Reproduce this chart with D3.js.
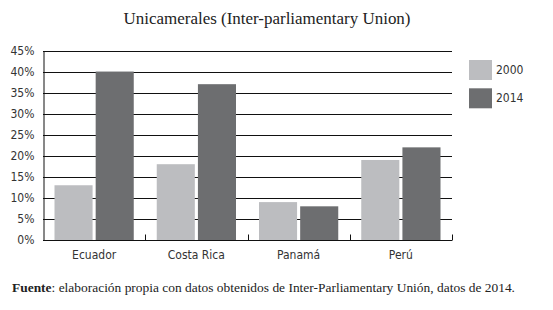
<!DOCTYPE html>
<html>
<head>
<meta charset="utf-8">
<script src="https://cdn.jsdelivr.net/npm/d3@7"></script>
<style>
  body { margin: 0; background: #fff; }
</style>
</head>
<body>
<div id="chart"></div>
<script>
const countries = ["Ecuador", "Costa Rica", "Panamá", "Perú"];
const years = ["2000", "2014"];
const values2000 = [13, 18, 9, 19];
const values2014 = [40, 37, 8, 22];
const yTicks = [0, 5, 10, 15, 20, 25, 30, 35, 40, 45];

const width = 553;
const height = 310;
const marginLeft = 43;
const plotRight = 452;
const marginTop = 50.5;
const plotBottom = 240;

const narrow = "'Liberation Sans Narrow', 'DejaVu Sans Condensed', sans-serif";
const serif = "'Liberation Serif', 'DejaVu Serif', serif";

const color = d3.scaleOrdinal().domain(years).range(["#bcbdc0", "#6d6e70"]);

const x = d3.scaleBand().domain(countries).range([marginLeft, plotRight]).paddingInner(0).paddingOuter(0);
const x1 = d3.scaleBand().domain(years).range([11.5, x.bandwidth() - 11.5]).paddingInner(0.075);
const y = d3.scaleLinear().domain([0, 45]).range([plotBottom, marginTop]);

const svg = d3.select("#chart").append("svg")
  .attr("width", width)
  .attr("height", height)
  .attr("viewBox", [0, 0, width, height]);

// title
svg.append("text")
  .attr("x", 267)
  .attr("y", 24)
  .attr("text-anchor", "middle")
  .attr("font-family", serif)
  .attr("font-size", 16)
  .attr("textLength", 287)
  .attr("lengthAdjust", "spacingAndGlyphs")
  .attr("fill", "#222")
  .text("Unicamerales (Inter-parliamentary Union)");

// gridlines
svg.append("g")
  .selectAll("line")
  .data(yTicks.filter(d => d > 0))
  .join("line")
  .attr("x1", marginLeft)
  .attr("x2", plotRight)
  .attr("y1", d => Math.round(y(d)) + 0.5)
  .attr("y2", d => Math.round(y(d)) + 0.5)
  .attr("stroke", "#111")
  .attr("stroke-width", 1);

// bars
const rows = countries.map((c, i) => ({ country: c, values: [values2000[i], values2014[i]] }));
svg.append("g")
  .selectAll("g")
  .data(rows)
  .join("g")
  .attr("transform", d => `translate(${x(d.country)},0)`)
  .selectAll("rect")
  .data(d => years.map((yr, j) => ({ year: yr, value: d.values[j] })))
  .join("rect")
  .attr("x", d => x1(d.year))
  .attr("width", x1.bandwidth())
  .attr("y", d => y(d.value))
  .attr("height", d => y(0) - y(d.value))
  .attr("fill", d => color(d.year));

// y axis
const yAxis = svg.append("g")
  .attr("transform", `translate(${marginLeft + 0.5},0)`)
  .call(d3.axisLeft(y).tickValues(yTicks).tickFormat(d => d + "%").tickSize(0).tickPadding(9));
yAxis.select(".domain").attr("stroke", "#111");
yAxis.selectAll("text")
  .attr("font-family", narrow)
  .attr("font-size", 12)
  .attr("fill", "#333");

// x axis
const boundaries = countries.map(c => x(c) + x.bandwidth());
const xAxis = svg.append("g")
  .attr("transform", `translate(0,${Math.round(plotBottom) + 0.5})`);
xAxis.append("line")
  .attr("x1", marginLeft)
  .attr("x2", plotRight)
  .attr("stroke", "#111");
xAxis.selectAll(".tick-mark")
  .data(boundaries)
  .join("line")
  .attr("class", "tick-mark")
  .attr("x1", d => Math.round(d) + 0.5)
  .attr("x2", d => Math.round(d) + 0.5)
  .attr("y1", 0)
  .attr("y2", -6)
  .attr("stroke", "#111");
xAxis.selectAll("text")
  .data(countries)
  .join("text")
  .attr("x", d => x(d) + x.bandwidth() / 2)
  .attr("y", 18)
  .attr("text-anchor", "middle")
  .attr("font-family", narrow)
  .attr("font-size", 12)
  .attr("fill", "#333")
  .text(d => d);

// legend
const legend = svg.append("g")
  .attr("transform", "translate(469,60)");
years.forEach((yr, i) => {
  const row = legend.append("g").attr("transform", `translate(0,${i * 28.3})`);
  row.append("rect")
    .attr("width", 23)
    .attr("height", 20)
    .attr("fill", color(yr));
  row.append("text")
    .attr("x", 27)
    .attr("y", 10)
    .attr("dy", "0.35em")
    .attr("font-family", narrow)
    .attr("font-size", 12)
    .attr("fill", "#333")
    .text(yr);
});

// source note
const note = svg.append("text")
  .attr("x", 12)
  .attr("y", 292)
  .attr("font-family", serif)
  .attr("font-size", 12.5)
  .attr("textLength", 503)
  .attr("lengthAdjust", "spacingAndGlyphs")
  .attr("fill", "#222");
note.append("tspan").attr("font-weight", "bold").text("Fuente");
note.append("tspan").text(": elaboración propia con datos obtenidos de Inter-Parliamentary Unión, datos de 2014.");
</script>
</body>
</html>
